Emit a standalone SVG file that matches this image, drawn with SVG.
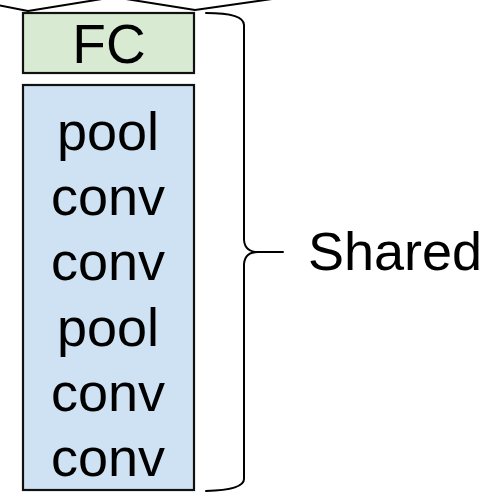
<svg xmlns="http://www.w3.org/2000/svg" width="487" height="492" viewBox="0 0 487 492">
<style>
.box{stroke:#111;stroke-width:2.2}
.t{font-family:"Liberation Sans",Arial,sans-serif;fill:#000;text-anchor:middle}
.ln{fill:none;stroke:#000;stroke-width:2;stroke-linecap:round;stroke-linejoin:round}
</style>
<rect width="487" height="492" fill="#fff"/>
<g id="connectors">
<path class="ln" d="M -2 5 L 28 11 L 102 -1"/>
<path class="ln" d="M 126 -1 L 195 10 L 272 -1"/>
</g>
<g id="fc">
<rect class="box" x="23" y="13" width="171" height="60" fill="#d9ead3"/>
<text class="t" x="109" y="63" font-size="55">FC</text>
</g>
<g id="shared-layers">
<rect class="box" x="23" y="85" width="171" height="405" fill="#cfe2f3"/>
<text class="t" x="108" y="150" font-size="54">pool</text>
<text class="t" x="108" y="215" font-size="54">conv</text>
<text class="t" x="108" y="280" font-size="54">conv</text>
<text class="t" x="108" y="346" font-size="54">pool</text>
<text class="t" x="108" y="411" font-size="54">conv</text>
<text class="t" x="108" y="476" font-size="54">conv</text>
</g>
<g id="brace">
<path class="ln" d="M 206 13 Q 244 13 244 25 L 244 240 Q 245 252 258 252 L 283 252 M 258 252 Q 245 252 244 264 L 244 479 Q 244 490 206 491"/>
<text x="308" y="270" font-size="54" font-family="Liberation Sans, Arial, sans-serif">Shared</text>
</g>
</svg>
